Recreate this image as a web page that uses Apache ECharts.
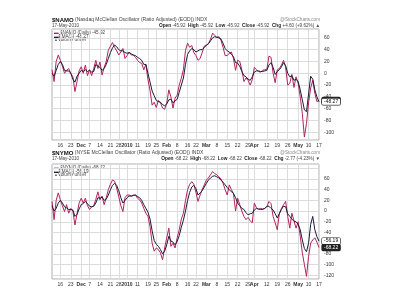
<!DOCTYPE html>
<html><head><meta charset="utf-8">
<script src="https://cdn.jsdelivr.net/npm/echarts@6/dist/echarts.min.js"></script>
<style>html,body{margin:0;padding:0;background:#fff}#c{width:400px;height:300px}</style>
</head><body><div id="c"></div>
<script>
const dates = ['11/10','11/11','11/12','11/13','11/16','11/17','11/18','11/19','11/20','11/23','11/24','11/25','11/27','11/30','12/1','12/2','12/3','12/4','12/7','12/8','12/9','12/10','12/11','12/14','12/15','12/16','12/17','12/18','12/21','12/22','12/23','12/24','12/28','12/29','12/30','12/31','1/4','1/5','1/6','1/7','1/8','1/11','1/12','1/13','1/14','1/15','1/19','1/20','1/21','1/22','1/25','1/26','1/27','1/28','1/29','2/1','2/2','2/3','2/4','2/5','2/8','2/9','2/10','2/11','2/12','2/16','2/17','2/18','2/19','2/22','2/23','2/24','2/25','2/26','3/1','3/2','3/3','3/4','3/5','3/8','3/9','3/10','3/11','3/12','3/15','3/16','3/17','3/18','3/19','3/22','3/23','3/24','3/25','3/26','3/29','3/30','3/31','4/1','4/5','4/6','4/7','4/8','4/9','4/12','4/13','4/14','4/15','4/16','4/19','4/20','4/21','4/22','4/23','4/26','4/27','4/28','4/29','4/30','5/3','5/4','5/5','5/6','5/7','5/10','5/11','5/12','5/13','5/14','5/17'];

const tickLabels = {'11/16':'16','11/23':'23','12/1':'Dec','12/7':'7','12/14':'14','12/21':'21','12/28':'28','1/4':'2010','1/11':'11','1/19':'19','1/25':'25','2/1':'Feb','2/8':'8','2/16':'16','2/22':'22','3/1':'Mar','3/8':'8','3/15':'15','3/22':'22','3/29':'29','4/1':'Apr','4/12':'12','4/19':'19','4/26':'26','5/3':'May','5/10':'10','5/17':'17'};
const boldTicks = ['Dec','2010','Feb','Mar','Apr','May'];

const namoDaily = [6,-14,20,31,22,12,0,5,8,0,-6,-31,-14,4,11,0,14,-4,6,-4,8,22,8,19,-3,10,20,39,46,52,44,38,31,36,42,25,30,36,31,31,27,22,18,17,6,15,-11,-29,-54,-49,-58,-46,-50,-59,-61,-51,-28,-40,-59,-42,-37,-20,-8,6,39,51,44,47,35,30,22,
 25,35,46,48,50,58,68,64,61,62,56,44,30,30,34,36,25,5,22,20,6,-14,-8,-12,-20,-11,10,6,3,2,5,6,7,29,27,0,-16,6,8,14,22,10,-20,-17,-2,-24,-6,-17,-40,-68,-108,-85,-50,-25,-12,-34,-48,-45.92];
const namoEma = [0,-5,5,15,20,15,5,4,4,0,-10,-15,-5,0,5,3,6,3,5,2,3,15,12,10,5,8,15,25,35,43,48,45,40,38,38,35,34,35,33,31,30,27,25,22,15,15,0,-15,-30,-38,-46,-48,-49,-53,-55,-52,-45,-44,-50,-47,-44,-32,-20,-8,15,32,38,42,40,36,38,
 40,40,44,47,50,55,60,62,61,60,58,51,42,38,36,32,28,18,17,12,3,-4,-6,-10,-12,-6,2,4,4,3,3,4,5,14,18,10,-2,3,6,11,18,13,0,-6,-4,-12,-10,-14,-28,-45,-62,-65,-35,-5,-10,-28,-40,-48.27];
const nymoDaily = [18,-16,20,34,21,10,-1,12,-4,5,0,-26,-5,15,24,15,24,10,3,8,10,22,36,21,28,12,25,40,50,58,56,43,27,10,-1,25,30,30,28,30,30,24,21,15,5,-4,-10,-29,-60,-75,-69,-72,-78,-91,-69,-50,-32,-66,-60,-69,-50,-35,-15,-4,20,40,50,55,50,35,18,
 30,40,49,58,62,68,74,70,68,64,60,52,40,30,49,40,33,0,24,12,0,-10,-16,-12,-18,-22,15,6,3,5,4,5,8,18,14,-10,-22,-35,-4,5,12,18,-10,-32,-4,-18,-32,-20,-47,-78,-100,-122,-85,-60,-54,-50,-58,-68.22];
const nymoEma = [10,0,5,15,20,15,8,6,3,3,2,-10,-6,4,12,14,18,14,9,8,9,15,25,24,26,20,22,30,40,48,52,48,38,25,15,20,25,28,28,29,30,27,25,20,12,5,-2,-15,-37,-55,-62,-66,-72,-80,-75,-63,-47,-56,-58,-63,-57,-46,-30,-17,0,20,35,45,48,42,30,
 34,38,45,52,58,62,65,66,64,62,58,54,49,44,40,36,33,25,15,10,5,3,-3,-7,-5,-4,2,5,4,3,3,5,9,9,5,2,-5,-13,-5,3,9,8,-5,-10,-15,-19,-20,-25,-35,-54,-70,-76,-60,-25,-10,-35,-48,-56.19];

const panelTexts = [
  {sym:'$NAMO', desc:' (Nasdaq McClellan Oscillator (Ratio Adjusted) (EOD)) INDX', date:'17-May-2010',
   ohlc:'-45.92', chg:'+4.60 (+9.62%)', arrow:'▲', ema:'-48.27', last:'-45.92'},
  {sym:'$NYMO', desc:' (NYSE McClellan Oscillator (Ratio Adjusted) (EOD)) INDX', date:'17-May-2010',
   ohlc:'-68.22', chg:'-2.77 (-4.23%)', arrow:'▼', ema:'-56.19', last:'-68.22'}
];

const RED = '#b3245c', DARK = '#1c1c3c', GRID = '#dcdcdc', TXT = '#333';
const FONT = '"Liberation Sans", Arial, sans-serif';

const chart = echarts.init(document.getElementById('c'), null, {renderer:'canvas'});

const grids = [
  {left:52, right:81, top:29, height:111},
  {left:52, right:81, top:164, height:115}
];
const yRanges = [[-113, 75], [-127, 88]];

function xAxisFor(gi){
  return {
    type:'category', gridIndex:gi, data:dates, boundaryGap:false,
    axisLine:{show:false}, axisTick:{show:false},
    axisLabel:{
      interval:(i, v)=> v in tickLabels, margin:3, fontSize:5, color:TXT, fontFamily:FONT,
      formatter:(v)=>{ const t = tickLabels[v]; return boldTicks.includes(t) ? '{b|'+t+'}' : t; },
      rich:{b:{fontWeight:'bold', fontSize:5, color:TXT, fontFamily:FONT}}
    },
    splitLine:{show:true, interval:(i, v)=> v in tickLabels, lineStyle:{color:GRID, width:1}}
  };
}
function yAxisFor(gi){
  return {
    type:'value', gridIndex:gi, position:'right', min:yRanges[gi][0], max:yRanges[gi][1],
    minInterval:20, maxInterval:20, splitNumber:10, scale:true,
    axisLine:{show:false}, axisTick:{show:false},
    axisLabel:{showMinLabel:false, showMaxLabel:false, margin:5, fontSize:5, color:TXT, fontFamily:FONT,
      formatter:(v)=> (v % 20 === 0 && v <= 60) ? String(v) : ''},
    splitLine:{show:true, lineStyle:{color:GRID, width:1}}
  };
}
function lineSeries(gi, data, color, filled, z){
  return {
    type:'line', xAxisIndex:gi, yAxisIndex:gi, data:data, symbol:'none', z:z,
    lineStyle:{color:color, width:1}, itemStyle:{color:color}, animation:false,
    endLabel:{show:true, distance:3, fontSize:5, fontFamily:FONT, padding:[1,2,0,2],
      formatter:(p)=> Number(p.value).toFixed(2),
      color: filled ? '#fff' : '#111', backgroundColor: filled ? '#222' : '#fff',
      borderColor:'#222', borderWidth:0.6, borderRadius:1}
  };
}

const graphics = [];
const tops = [[20, 25.5], [153, 158.5]];
panelTexts.forEach((p, k)=>{
  const [ty, dy] = tops[k];
  const gt = grids[k].top;
  graphics.push({type:'text', left:52, top:ty-3, style:{
    text:'{b|'+p.sym+'}'+p.desc, fill:'#444', fontSize:5, fontFamily:FONT,
    rich:{b:{fontWeight:'bold', fontSize:6, fill:'#111', fontFamily:FONT}}}});
  graphics.push({type:'text', left:52, top:dy-2.5, style:{text:p.date, fill:'#444', fontSize:4.6, fontFamily:FONT}});
  graphics.push({type:'text', right:80, top:ty-2.5, style:{text:'@StockCharts.com', fill:'#888', fontSize:4.6, fontFamily:FONT}});
  graphics.push({type:'text', right:80, top:dy-2.5, style:{
    text:'{b|Open} '+p.ohlc+'  {b|High} '+p.ohlc+'  {b|Low} '+p.ohlc+'  {b|Close} '+p.ohlc+'  {b|Chg} '+p.chg+' '+p.arrow,
    fill:'#444', fontSize:4.6, fontFamily:FONT,
    rich:{b:{fontWeight:'bold', fontSize:4.8, fill:'#222', fontFamily:FONT}}}});
  graphics.push({type:'text', left:54, top:gt+1, style:{
    text:'{r|▬} '+p.sym+' (Daily) '+p.last+'\n{k|▬}EMA(3) '+p.ema+'\n{g|▲}Volume undef',
    fill:'#444', fontSize:4.6, lineHeight:3.8, fontFamily:FONT,
    rich:{r:{fill:RED, fontSize:4.6, lineHeight:3.8}, k:{fill:DARK, fontSize:4.6, lineHeight:3.8}, g:{fill:'#666', fontSize:4, lineHeight:3.8}}}});
});

chart.setOption({
  backgroundColor:'#fff',
  animation:false,
  grid: grids.map(g=>Object.assign({show:true, borderColor:'#999', borderWidth:0.8, backgroundColor:'#fff'}, g)),
  xAxis:[xAxisFor(0), xAxisFor(1)],
  yAxis:[yAxisFor(0), yAxisFor(1)],
  series:[
    lineSeries(0, namoEma, DARK, false, 3),
    lineSeries(0, namoDaily, RED, true, 2),
    lineSeries(1, nymoEma, DARK, false, 3),
    lineSeries(1, nymoDaily, RED, true, 2)
  ],
  graphic: graphics
});
</script></body></html>
